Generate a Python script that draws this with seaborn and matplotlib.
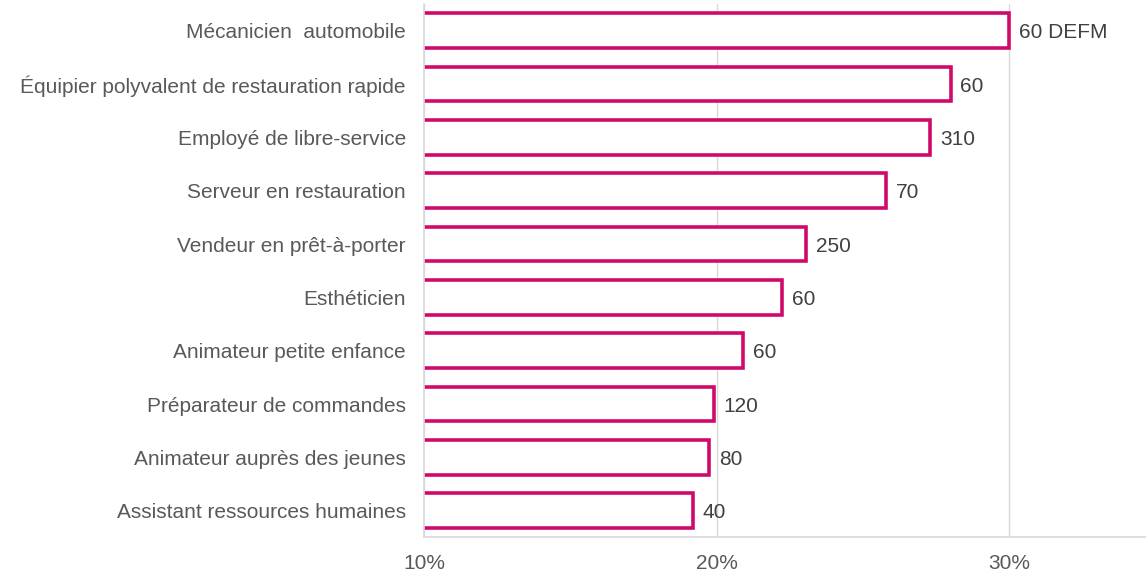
import matplotlib
matplotlib.use("Agg")
import matplotlib.pyplot as plt
import seaborn as sns
import pandas as pd

categories = [
    "Mécanicien  automobile",
    "Équipier polyvalent de restauration rapide",
    "Employé de libre-service",
    "Serveur en restauration",
    "Vendeur en prêt-à-porter",
    "Esthéticien",
    "Animateur petite enfance",
    "Préparateur de commandes",
    "Animateur auprès des jeunes",
    "Assistant ressources humaines",
]
values = [30.0, 28.0, 27.3, 25.8, 23.05, 22.25, 20.9, 19.9, 19.75, 19.2]
value_labels = ["60 DEFM", "60", "310", "70", "250", "60", "60", "120", "80", "40"]
tick_values = [10, 20, 30]
tick_labels = ["10%", "20%", "30%"]

df = pd.DataFrame({"metier": categories, "pct": values})

sns.set_theme(style="white")
plt.rcParams["font.family"] = ["Liberation Sans", "DejaVu Sans"]

fig = plt.figure(figsize=(11.46, 5.71), dpi=100)
ax = fig.add_axes([0.37, 0.0587, 0.63, 0.9343])

color = "#D10A69"
sns.barplot(data=df, x="pct", y="metier", orient="h", ax=ax,
            color="white", edgecolor=color, linewidth=2.6, width=0.65)

ax.set_xlim(10, 34.68)
ax.set_ylim(9.5, -0.5)
ax.set_xticks(tick_values)
ax.set_xticklabels(tick_labels)
ax.set_xlabel("")
ax.set_ylabel("")
ax.xaxis.grid(True, color="#D9D9D9", linewidth=1)
ax.set_axisbelow(True)
for s in ["top", "right"]:
    ax.spines[s].set_visible(False)
for s in ["left", "bottom"]:
    ax.spines[s].set_visible(True)
    ax.spines[s].set_color("#D9D9D9")
    ax.spines[s].set_linewidth(1.2)
ax.tick_params(axis="x", length=0, pad=12, labelsize=15, labelcolor="#595959")
ax.tick_params(axis="y", length=0, pad=13, labelsize=15, labelcolor="#595959")

for i, (v, lab) in enumerate(zip(values, value_labels)):
    ax.annotate(lab, xy=(v, i), xytext=(7, -1.5), textcoords="offset points",
                va="center", ha="left", fontsize=15, color="#404040")

fig.savefig("out.png", dpi=100)
